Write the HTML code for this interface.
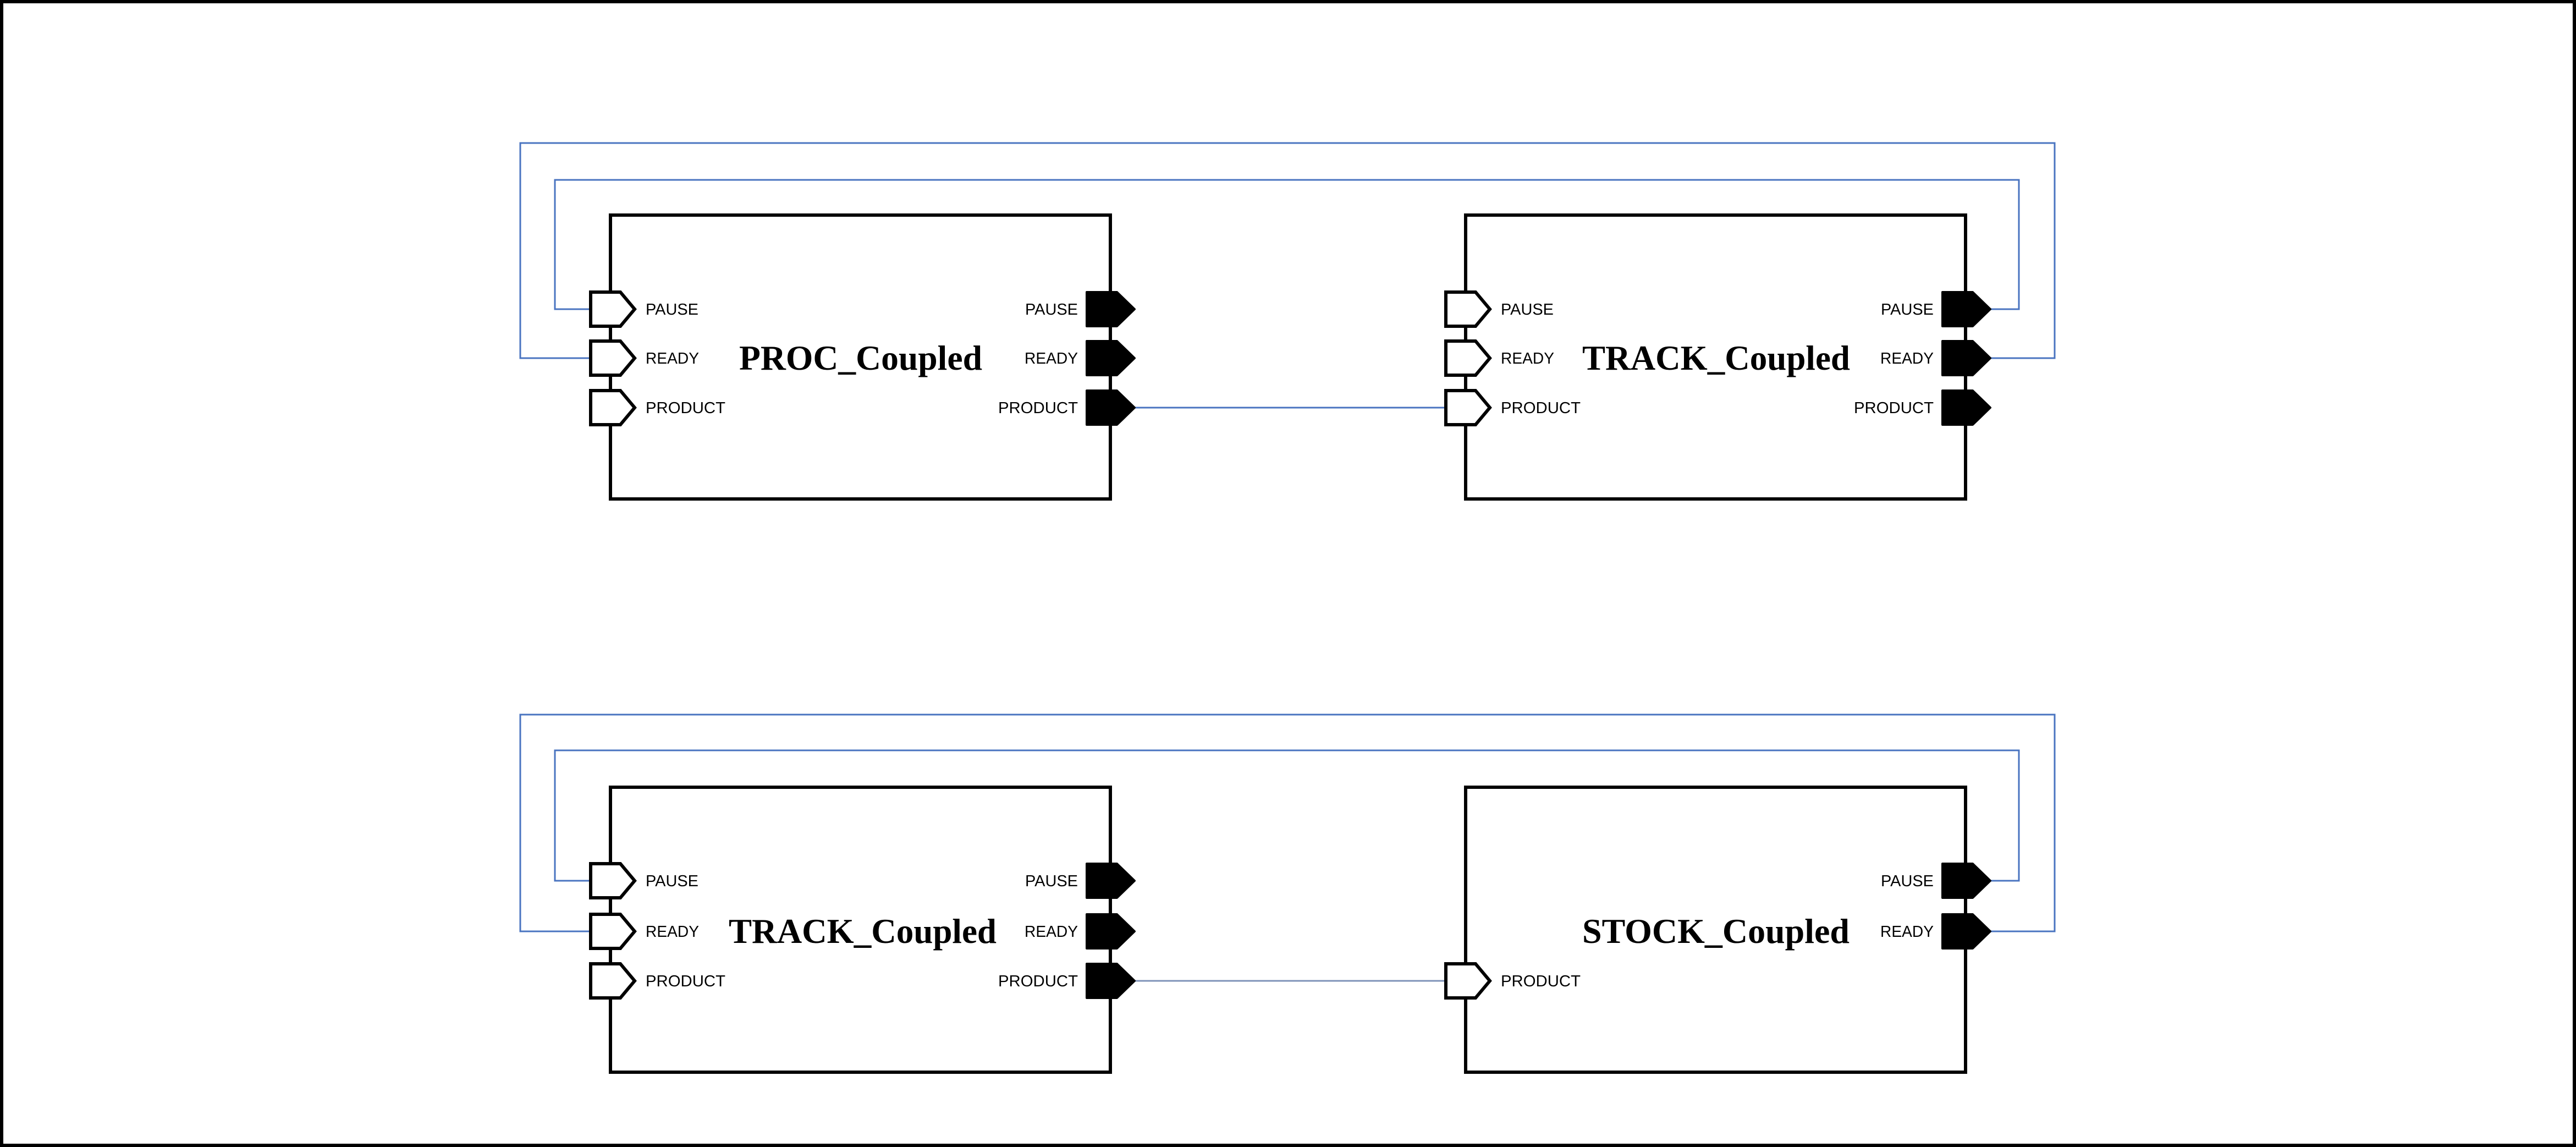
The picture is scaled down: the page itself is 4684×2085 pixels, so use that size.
<!DOCTYPE html>
<html><head><meta charset="utf-8"><style>html,body{margin:0;padding:0;background:#fff}svg{display:block}</style></head>
<body>
<svg width="4684" height="2085" viewBox="0 0 4684 2085" xmlns="http://www.w3.org/2000/svg">
<rect x="3" y="3" width="4678" height="2079" fill="#fff" stroke="#000" stroke-width="6"/>
<defs>
<g id="inP"><polygon points="0,-31 54,-31 80,0 54,31 0,31" fill="#fff" stroke="#000" stroke-width="6" stroke-linejoin="miter"/></g>
<g id="outP"><polygon points="0,-31 55,-31 87,0 55,31 0,31" fill="#000" stroke="#000" stroke-width="4" stroke-linejoin="round"/></g>
</defs>
<g fill="none" stroke="#4a74c0" stroke-width="3">
<polyline points="1074,651 946,651 946,260 3736,260 3736,651 3619,651"/>
<polyline points="1074,562 1009,562 1009,327 3671,327 3671,562 3619,562"/>
<line x1="2063" y1="741" x2="2629" y2="741"/>
<polyline points="1074,1693 946,1693 946,1299 3736,1299 3736,1693 3619,1693"/>
<polyline points="1074,1601 1009,1601 1009,1364 3671,1364 3671,1601 3619,1601"/>
<line x1="2063" y1="1783" x2="2629" y2="1783" stroke="#7f93b8"/>
</g>
<g fill="none" stroke="#000" stroke-width="6">
<rect x="1110" y="391" width="909" height="516"/>
<rect x="2665" y="391" width="909" height="516"/>
<rect x="1110" y="1431" width="909" height="518"/>
<rect x="2665" y="1431" width="909" height="518"/>
</g>
<use href="#inP" x="1074" y="562"/><use href="#inP" x="1074" y="651"/><use href="#inP" x="1074" y="741"/>
<use href="#outP" x="1976" y="562"/><use href="#outP" x="1976" y="651"/><use href="#outP" x="1976" y="741"/>
<use href="#inP" x="2629" y="562"/><use href="#inP" x="2629" y="651"/><use href="#inP" x="2629" y="741"/>
<use href="#outP" x="3532" y="562"/><use href="#outP" x="3532" y="651"/><use href="#outP" x="3532" y="741"/>
<use href="#inP" x="1074" y="1601"/><use href="#inP" x="1074" y="1693"/><use href="#inP" x="1074" y="1783"/>
<use href="#outP" x="1976" y="1601"/><use href="#outP" x="1976" y="1693"/><use href="#outP" x="1976" y="1783"/>
<use href="#inP" x="2629" y="1783"/>
<use href="#outP" x="3532" y="1601"/><use href="#outP" x="3532" y="1693"/>
<g font-family="Liberation Sans, sans-serif" font-size="29" fill="#000">
<text x="1174" y="572" textLength="96" lengthAdjust="spacingAndGlyphs">PAUSE</text>
<text x="1174" y="661" textLength="97" lengthAdjust="spacingAndGlyphs">READY</text>
<text x="1174" y="751" textLength="145" lengthAdjust="spacingAndGlyphs">PRODUCT</text>
<text x="1864" y="572" textLength="96" lengthAdjust="spacingAndGlyphs">PAUSE</text>
<text x="1863" y="661" textLength="97" lengthAdjust="spacingAndGlyphs">READY</text>
<text x="1815" y="751" textLength="145" lengthAdjust="spacingAndGlyphs">PRODUCT</text>
<text x="2729" y="572" textLength="96" lengthAdjust="spacingAndGlyphs">PAUSE</text>
<text x="2729" y="661" textLength="97" lengthAdjust="spacingAndGlyphs">READY</text>
<text x="2729" y="751" textLength="145" lengthAdjust="spacingAndGlyphs">PRODUCT</text>
<text x="3420" y="572" textLength="96" lengthAdjust="spacingAndGlyphs">PAUSE</text>
<text x="3419" y="661" textLength="97" lengthAdjust="spacingAndGlyphs">READY</text>
<text x="3371" y="751" textLength="145" lengthAdjust="spacingAndGlyphs">PRODUCT</text>
<text x="1174" y="1611" textLength="96" lengthAdjust="spacingAndGlyphs">PAUSE</text>
<text x="1174" y="1703" textLength="97" lengthAdjust="spacingAndGlyphs">READY</text>
<text x="1174" y="1793" textLength="145" lengthAdjust="spacingAndGlyphs">PRODUCT</text>
<text x="1864" y="1611" textLength="96" lengthAdjust="spacingAndGlyphs">PAUSE</text>
<text x="1863" y="1703" textLength="97" lengthAdjust="spacingAndGlyphs">READY</text>
<text x="1815" y="1793" textLength="145" lengthAdjust="spacingAndGlyphs">PRODUCT</text>
<text x="2729" y="1793" textLength="145" lengthAdjust="spacingAndGlyphs">PRODUCT</text>
<text x="3420" y="1611" textLength="96" lengthAdjust="spacingAndGlyphs">PAUSE</text>
<text x="3419" y="1703" textLength="97" lengthAdjust="spacingAndGlyphs">READY</text>
</g>
<g font-family="Liberation Serif, serif" font-weight="bold" font-size="64" fill="#000">
<text x="1344" y="672" textLength="442" lengthAdjust="spacingAndGlyphs">PROC_Coupled</text>
<text x="2877" y="672" textLength="487" lengthAdjust="spacingAndGlyphs">TRACK_Coupled</text>
<text x="1325" y="1714" textLength="487" lengthAdjust="spacingAndGlyphs">TRACK_Coupled</text>
<text x="2877" y="1714" textLength="486" lengthAdjust="spacingAndGlyphs">STOCK_Coupled</text>
</g>
</svg>
</body></html>
